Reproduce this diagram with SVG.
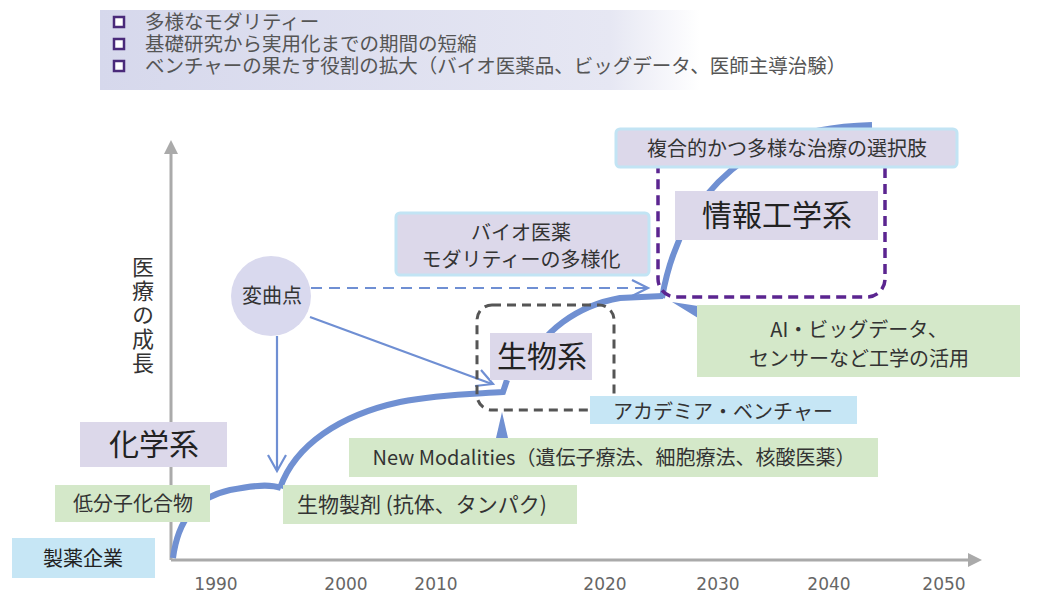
<svg xmlns="http://www.w3.org/2000/svg" width="1050" height="595" viewBox="0 0 1050 595">
<defs>
<linearGradient id="topg" x1="0" x2="1" y1="0" y2="0">
<stop offset="0" stop-color="#d6d8ec"/>
<stop offset="0.85" stop-color="#e6e7f3"/>
<stop offset="1" stop-color="#ffffff"/>
</linearGradient>
<style>
text{font-family:"Noto Sans CJK JP","Noto Sans",sans-serif;fill:#333}
.top{font-size:19.5px;fill:#555}
.big{font-size:30px;text-anchor:middle;fill:#222}
.mid{font-size:20px;text-anchor:middle}
.yr{font-family:"DejaVu Sans",sans-serif;font-size:17px;text-anchor:middle;fill:#666}
.lav{fill:#dcd8ea}
.lavb{fill:#dcd8ea;stroke:#c2e4f4;stroke-width:3}
.blu{fill:#c6e6f5}
.grn{fill:#d4e8c9}
.curve{fill:none;stroke:#7090d2;stroke-width:6;stroke-linecap:butt}
.arr{fill:none;stroke:#6f8fd3;stroke-width:2.2}
.axis{stroke:#aaaaaa;stroke-width:3;fill:none}
.bul{fill:#fff;stroke:#4a2a7a;stroke-width:2.5}
</style>
</defs>
<rect width="1050" height="595" fill="#ffffff"/>

<g id="legend">
<rect x="100" y="10" width="600" height="80" fill="url(#topg)"/>
<rect class="bul" x="114" y="17" width="10" height="10"/>
<rect class="bul" x="114" y="39" width="10" height="10"/>
<rect class="bul" x="114" y="61" width="10" height="10"/>
<text class="top" x="145" y="29">多様なモダリティー</text>
<text class="top" x="145" y="51">基礎研究から実用化までの期間の短縮</text>
<text class="top" x="145" y="73">ベンチャーの果たす役割の拡大（バイオ医薬品、ビッグデータ、医師主導治験）</text>
</g>

<g id="axes">
<line class="axis" x1="171" y1="560" x2="171" y2="152"/>
<polygon points="164,154 171,140 178,154" fill="#aaaaaa"/>
<line class="axis" x1="171" y1="560" x2="970" y2="560"/>
<polygon points="968,553 982,560 968,567" fill="#aaaaaa"/>
<text class="yr" x="216" y="590">1990</text>
<text class="yr" x="346" y="590">2000</text>
<text class="yr" x="436" y="590">2010</text>
<text class="yr" x="605" y="590">2020</text>
<text class="yr" x="718" y="590">2030</text>
<text class="yr" x="829" y="590">2040</text>
<text class="yr" x="944" y="590">2050</text>
<text x="143" y="256" font-size="22" letter-spacing="2" style="writing-mode:vertical-rl;fill:#333">医療の成長</text>
</g>

<g id="connectors">
<path class="curve" d="M173,558 C178,520 195,498 230,490 C255,485 270,484 281,488"/>
<path class="curve" d="M280,488 C295,445 340,415 400,402 C440,394 475,394 503,392 L507,380"/>
<path class="curve" d="M525,372 C540,330 580,305 620,298 L663,296"/>
<path class="curve" d="M662,298 C672,240 700,185 760,150 C800,130 840,126 872,125"/>
<line class="arr" x1="311" y1="288" x2="647" y2="288" stroke-dasharray="11 7"/>
<polyline class="arr" points="632,280 648,288 632,296"/>
<line class="arr" x1="277" y1="336" x2="277" y2="470"/>
<polyline class="arr" points="268,455 277,471 286,455"/>
<line class="arr" x1="310" y1="317" x2="492" y2="384"/>
<polyline class="arr" points="475,386 493,384 481,370"/>
<polygon points="502,412 496,438 508,438" fill="#7090d2"/>
<polygon points="672,302 698,306 698,318" fill="#7090d2"/>
</g>

<g id="region-bio">
<rect x="477" y="305" width="137" height="105" rx="15" fill="none" stroke="#555" stroke-width="3" stroke-dasharray="9 6"/>
</g>
<g id="region-info">
<rect x="658" y="145" width="227" height="152" rx="18" fill="none" stroke="#5b2590" stroke-width="3.5" stroke-dasharray="10 6"/>
</g>

<g id="node-seiyaku">
<rect class="blu" x="12" y="538" width="143" height="40"/>
<text class="mid" x="83" y="566" font-size="22" style="fill:#222">製薬企業</text>
</g>
<g id="node-teibunshi">
<rect class="grn" x="55" y="485" width="155" height="37"/>
<text class="mid" x="133" y="511">低分子化合物</text>
</g>
<g id="node-kagaku">
<rect class="lav" x="80" y="422" width="147" height="45"/>
<text class="big" x="154" y="455">化学系</text>
</g>
<g id="node-seibutsuseizai">
<rect class="grn" x="283" y="485" width="294" height="39"/>
<text x="297" y="512" font-size="21">生物製剤 (抗体、タンパク)</text>
</g>
<g id="node-newmod">
<rect class="grn" x="349" y="438" width="529" height="39"/>
<text class="mid" x="614" y="465">New Modalities（遺伝子療法、細胞療法、核酸医薬）</text>
</g>
<g id="node-academia">
<rect class="blu" x="590" y="396" width="267" height="28"/>
<text class="mid" x="723" y="419" font-size="22">アカデミア・ベンチャー</text>
</g>
<g id="node-seibutsu">
<rect class="lav" x="490" y="333" width="102" height="47"/>
<text class="big" x="542" y="367">生物系</text>
</g>
<g id="node-henkyokuten">
<circle cx="271" cy="296" r="40" fill="#d9d9ee"/>
<text class="mid" x="272" y="303">変曲点</text>
</g>
<g id="node-bio">
<rect class="lavb" x="396" y="213" width="253" height="62" rx="4"/>
<text class="mid" x="521" y="240" font-size="20.5">バイオ医薬</text>
<text class="mid" x="521" y="267" font-size="20.5">モダリティーの多様化</text>
</g>
<g id="node-fukugo">
<rect class="lavb" x="616" y="129" width="341" height="38" rx="4"/>
<text class="mid" x="787" y="156" font-size="21">複合的かつ多様な治療の選択肢</text>
</g>
<g id="node-joho">
<rect class="lav" x="675" y="191" width="203" height="49"/>
<text class="big" x="777" y="226" font-size="31">情報工学系</text>
</g>
<g id="node-ai">
<rect class="grn" x="697" y="305" width="323" height="72"/>
<text class="mid" x="859" y="337" font-size="21.5">AI・ビッグデータ、</text>
<text class="mid" x="859" y="366" font-size="21.5">センサーなど工学の活用</text>
</g>
</svg>
